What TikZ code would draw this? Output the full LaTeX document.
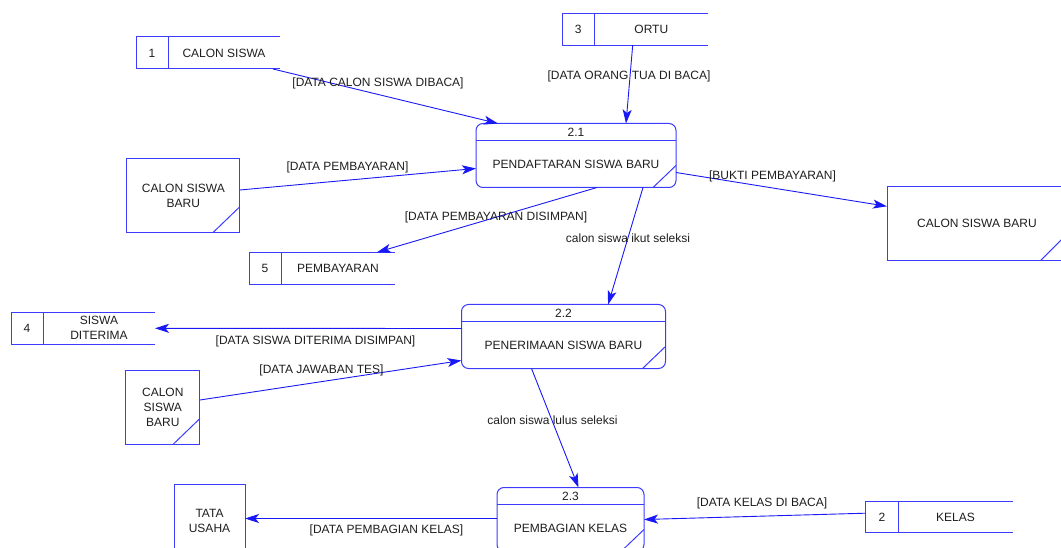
\documentclass[tikz,border=0pt]{standalone}
\usepackage{fontspec}
\setmainfont{Liberation Sans}
\usetikzlibrary{calc,arrows.meta}
\definecolor{boxblue}{RGB}{60,60,255}
\definecolor{flowblue}{RGB}{25,25,245}
\definecolor{ink}{RGB}{30,30,30}
\begin{document}
\begin{tikzpicture}[x=1pt,y=-1pt,
  txt/.style={font=\fontsize{12}{15}\selectfont, text=ink, inner sep=0pt, align=center},
  procbox/.style={draw=boxblue, line width=1pt, rounded corners=7pt, inner sep=0pt, outer sep=0pt},
  entbox/.style={txt, draw=boxblue, line width=1pt, outer sep=0pt},
  storebox/.style={inner sep=0pt, outer sep=0pt},
  edge line/.style={draw=boxblue, line width=1pt},
  flow/.style={draw=flowblue, line width=0.9pt, -{Stealth[length=14pt,width=9pt,inset=3.5pt]}}
]
\useasboundingbox (0,0) rectangle (1061,548);

% ---------- processes ----------
\node[procbox, minimum width=200pt, minimum height=64pt] (p1) at (576,155.5) {};
\draw[edge line] ($(p1.north west)+(0,17)$) -- ($(p1.north east)+(0,17)$);
\draw[edge line] ($(p1.south east)+(0,-22)$) -- ($(p1.south east)+(-23,0)$);
\node[txt] (p1num) at ($(p1.north)+(0,9)$) {2.1};
\node[txt] (p1name) at ($(p1.center)+(0,9)$) {PENDAFTARAN SISWA BARU};

\node[procbox, minimum width=204pt, minimum height=64pt] (p2) at (563.5,336.5) {};
\draw[edge line] ($(p2.north west)+(0,17)$) -- ($(p2.north east)+(0,17)$);
\draw[edge line] ($(p2.south east)+(0,-22)$) -- ($(p2.south east)+(-23,0)$);
\node[txt] (p2num) at ($(p2.north)+(0,9)$) {2.2};
\node[txt] (p2name) at ($(p2.center)+(0,9)$) {PENERIMAAN SISWA BARU};

\node[procbox, minimum width=147pt, minimum height=64pt] (p3) at (570.5,519.5) {};
\draw[edge line] ($(p3.north west)+(0,17)$) -- ($(p3.north east)+(0,17)$);
\draw[edge line] ($(p3.south east)+(0,-22)$) -- ($(p3.south east)+(-23,0)$);
\node[txt] (p3num) at ($(p3.north)+(0,9)$) {2.3};
\node[txt] (p3name) at ($(p3.center)+(0,9)$) {PEMBAGIAN KELAS};

% ---------- external entities ----------
\node[entbox, minimum width=113pt, minimum height=74.5pt] (e1) at (183.3,195.5) {CALON SISWA\\BARU};
\draw[edge line] ($(e1.south east)+(0,-26)$) -- ($(e1.south east)+(-27,0)$);

\node[entbox, minimum width=180pt, minimum height=73.5pt] (e2) at (977,223.3) {CALON SISWA BARU};
\draw[edge line] ($(e2.south east)+(0,-26)$) -- ($(e2.south east)+(-26,0)$);

\node[entbox, minimum width=74.3pt, minimum height=74pt] (e3) at (162.8,407) {CALON\\SISWA\\BARU};
\draw[edge line] ($(e3.south east)+(0,-25.5)$) -- ($(e3.south east)+(-26.5,0)$);

\node[entbox, minimum width=71pt, minimum height=74pt] (e4) at (209.5,521) {TATA\\USAHA};

% ---------- data stores ----------
\node[storebox, minimum width=144pt, minimum height=32pt] (s1) at (208,53) {};
\draw[edge line] (s1.north east) -- (s1.north west) -- (s1.south west) -- (s1.south east);
\draw[edge line] ($(s1.north west)+(32,0)$) -- ($(s1.south west)+(32,0)$);
\node[txt] (s1num) at ($(s1.west)+(16,0)$) {1};
\node[txt] (s1name) at ($(s1.center)+(16,0)$) {CALON SISWA};

\node[storebox, minimum width=146pt, minimum height=32pt] (s3) at (635.3,29.2) {};
\draw[edge line] (s3.north east) -- (s3.north west) -- (s3.south west) -- (s3.south east);
\draw[edge line] ($(s3.north west)+(32,0)$) -- ($(s3.south west)+(32,0)$);
\node[txt] (s3num) at ($(s3.west)+(16,0)$) {3};
\node[txt] (s3name) at ($(s3.center)+(16,0)$) {ORTU};

\node[storebox, minimum width=146pt, minimum height=32pt] (s5) at (322,268.3) {};
\draw[edge line] (s5.north east) -- (s5.north west) -- (s5.south west) -- (s5.south east);
\draw[edge line] ($(s5.north west)+(32,0)$) -- ($(s5.south west)+(32,0)$);
\node[txt] (s5num) at ($(s5.west)+(16,0)$) {5};
\node[txt] (s5name) at ($(s5.center)+(16,0)$) {PEMBAYARAN};

\node[storebox, minimum width=144pt, minimum height=31.5pt] (s4) at (83,328.3) {};
\draw[edge line] (s4.north east) -- (s4.north west) -- (s4.south west) -- (s4.south east);
\draw[edge line] ($(s4.north west)+(32,0)$) -- ($(s4.south west)+(32,0)$);
\node[txt] (s4num) at ($(s4.west)+(16,0)$) {4};
\node[txt] (s4name) at ($(s4.center)+(16,0)$) {SISWA\\DITERIMA};

\node[storebox, minimum width=147pt, minimum height=31pt] (s2) at (939,517.2) {};
\draw[edge line] (s2.north east) -- (s2.north west) -- (s2.south west) -- (s2.south east);
\draw[edge line] ($(s2.north west)+(33,0)$) -- ($(s2.south west)+(33,0)$);
\node[txt] (s2num) at ($(s2.west)+(16.5,0)$) {2};
\node[txt] (s2name) at ($(s2.center)+(16.5,0)$) {KELAS};

% ---------- data flows ----------
\draw[flow] ($(s1.south east)+(-7,0)$) -- ($(p1.north west)+(22,0)$);
\draw[flow] ($(s3.south west)+(70.4,0)$) -- ($(p1.north west)+(150,0)$);
\draw[flow] ($(e1.east)+(0,-5.5)$) -- ($(p1.west)+(0,13)$);
\draw[flow] ($(p1.south west)+(121,0)$) -- ($(s5.north east)+(-18,0)$);
\draw[flow] ($(p1.east)+(0,17)$) -- ($(e2.west)+(0,-17)$);
\draw[flow] ($(p1.south west)+(167,0)$) -- ($(p2.north west)+(146.6,0)$);
\draw[flow] ($(p2.west)+(0,-8)$) -- (s4.east);
\draw[flow] ($(e3.east)+(0,-7)$) -- ($(p2.west)+(0,24)$);
\draw[flow] ($(p2.south west)+(70,0)$) -- ($(p3.north west)+(81.5,0)$);
\draw[flow] ($(p3.west)+(0,-1)$) -- ($(e4.east)+(0,-2.5)$);
\draw[flow] ($(s2.west)+(0,-4)$) -- (p3.east);

% ---------- flow labels ----------
\node[txt] (l1) at (378,83) {[DATA CALON SISWA DIBACA]};
\node[txt] (l2) at (629,76) {[DATA ORANG TUA DI BACA]};
\node[txt] (l3) at (347.5,167) {[DATA PEMBAYARAN]};
\node[txt] (l4) at (496,217) {[DATA PEMBAYARAN DISIMPAN]};
\node[txt] (l5) at (772.5,176) {[BUKTI PEMBAYARAN]};
\node[txt] (l6) at (628,238) {calon siswa ikut seleksi};
\node[txt] (l7) at (315.5,341) {[DATA SISWA DITERIMA DISIMPAN]};
\node[txt] (l8) at (321.5,370) {[DATA JAWABAN TES]};
\node[txt] (l9) at (552.5,420) {calon siswa lulus seleksi};
\node[txt] (l10) at (386.5,530.5) {[DATA PEMBAGIAN KELAS]};
\node[txt] (l11) at (762,503) {[DATA KELAS DI BACA]};
\end{tikzpicture}
\end{document}
